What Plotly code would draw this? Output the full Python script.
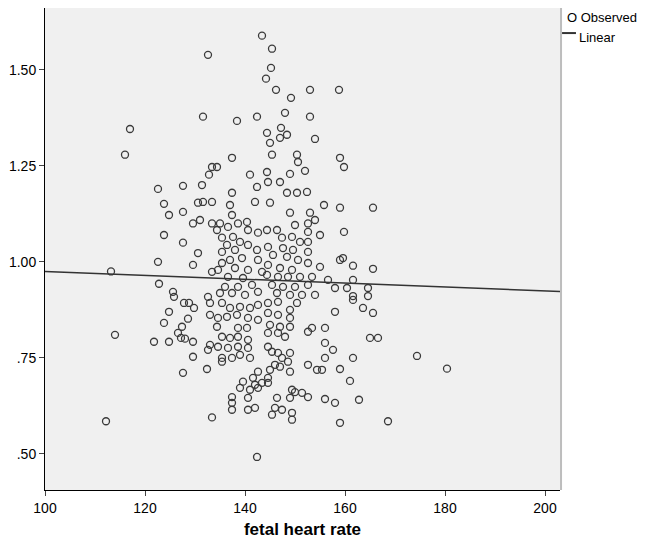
import plotly.graph_objects as go

# fetal heart rate (x) and ratio (y)
fhr = [
    # sparse / upper
    143.4, 145.4, 145.2, 132.6, 144.2, 146.2, 149.2, 153.0, 158.8, 117.0, 116.0, 131.6,
    138.4, 142.4, 148.0, 153.0, 144.4, 147.2, 145.0, 147.0, 145.4, 137.4, 141.0, 144.4,
    134.4, 154.0, 148.4, 150.4, 150.6, 152.0, 159.0, 159.8, 149.0,
    # left upper
    133.4, 132.8, 131.4, 127.6, 122.6, 123.8, 124.8, 127.6, 130.6, 131.6, 133.4, 129.6,
    131.0, 133.4, 123.8, 127.6,
    # left lower
    130.6, 129.6, 122.6, 113.2, 122.8, 125.6, 125.8, 127.8, 128.8, 129.8, 124.8, 123.8,
    128.6, 127.4, 126.6, 127.2, 128.0, 129.6, 121.8, 124.8, 114.0, 129.6, 127.6, 132.4,
    132.6, 133.0, 133.0, 133.0, 132.6, 112.2, 133.4, 133.4,
    # centre left upper
    137.4, 142.4, 142.0, 137.0, 137.4, 135.0, 134.4, 136.6, 138.6, 140.4, 140.6, 142.6,
    137.6, 135.4, 139.0, 136.4, 140.6, 135.4, 138.0, 142.4, 142.6, 139.4, 137.0, 135.4,
    134.6, 138.0, 140.6, 143.4, 136.6, 139.6, 136.0, 138.6, 141.4, 135.0, 137.4, 140.0,
    142.6,
    # centre right upper
    144.6, 147.0, 148.4, 150.4, 152.4, 145.0, 149.0, 153.0, 152.6, 154.0, 144.4, 146.4,
    150.0, 152.6, 147.4, 149.4, 151.0, 152.6, 144.6, 147.6, 149.6, 152.6, 145.6, 148.4,
    150.6, 152.6, 144.6, 147.0, 149.4, 144.4, 146.6, 148.6, 151.0, 153.4, 145.4, 147.6,
    150.0, 152.6, 146.4, 149.0, 151.4, 154.0,
    # right upper
    155.8, 159.0, 165.6, 159.8, 155.0, 159.0, 159.6, 161.6, 165.6, 161.6, 158.0, 160.4,
    164.6, 161.6, 164.6, 155.0, 156.6,
    # centre left lower
    135.4, 137.0, 139.0, 141.0, 142.6, 134.6, 136.4, 138.4, 140.6, 142.6, 134.4, 138.6,
    140.4, 135.4, 137.0, 138.6, 140.6, 134.6, 136.6, 138.6, 140.6, 135.4, 137.4, 139.0,
    141.0, 135.4, 142.6, 141.6, 139.6, 142.0, 143.4, 139.0, 141.0, 142.6, 137.4, 140.6,
    137.4, 137.4, 140.6, 142.0,
    # centre right lower
    144.6, 146.6, 149.0, 150.4, 144.6, 146.6, 149.0, 145.0, 147.0, 149.0, 144.6, 146.6,
    148.0, 153.4, 152.6, 144.6, 145.4, 146.6, 149.0, 147.4, 148.6, 146.0, 145.0, 147.0,
    149.0, 152.6, 154.4, 144.6, 144.6, 149.4, 150.0, 151.4, 152.6, 149.0, 146.4, 146.0,
    147.4, 149.4, 145.4,
    # right lower
    158.0, 161.6, 163.6, 165.6, 156.0, 165.0, 166.6, 156.0, 157.6, 156.0, 161.6, 174.4,
    180.4, 159.0, 155.4, 161.0, 156.0, 158.0, 162.8, 159.0, 168.6,
    # bottom
    142.4, 149.4,
]
ratio = [
    1.589, 1.555, 1.505, 1.539, 1.477, 1.448, 1.427, 1.448, 1.448, 1.346, 1.279, 1.378,
    1.367, 1.378, 1.388, 1.378, 1.336, 1.349, 1.310, 1.323, 1.279, 1.271, 1.227, 1.234,
    1.247, 1.320, 1.331, 1.279, 1.260, 1.237, 1.271, 1.247, 1.229,
    1.247, 1.227, 1.200, 1.198, 1.190, 1.151, 1.122, 1.130, 1.154, 1.156, 1.156, 1.100,
    1.109, 1.100, 1.070, 1.050,
    1.023, 0.992, 1.000, 0.975, 0.943, 0.922, 0.909, 0.893, 0.893, 0.880, 0.870, 0.841,
    0.852, 0.831, 0.815, 0.802, 0.800, 0.792, 0.792, 0.792, 0.810, 0.753, 0.711, 0.721,
    0.771, 0.784, 0.862, 0.893, 0.909, 0.585, 0.595, 0.974,
    1.180, 1.195, 1.156, 1.148, 1.122, 1.100, 1.083, 1.091, 1.100, 1.104, 1.083, 1.076,
    1.065, 1.063, 1.052, 1.044, 1.044, 1.026, 1.031, 1.031, 1.005, 1.010, 1.005, 0.997,
    0.979, 0.984, 0.979, 0.974, 0.961, 0.958, 0.935, 0.935, 0.940, 0.919, 0.919, 0.914,
    0.922,
    1.208, 1.208, 1.180, 1.180, 1.182, 1.154, 1.128, 1.128, 1.100, 1.109, 1.083, 1.083,
    1.096, 1.078, 1.063, 1.065, 1.052, 1.052, 1.039, 1.036, 1.031, 1.026, 1.018, 1.013,
    1.005, 0.997, 0.992, 0.984, 0.979, 0.966, 0.961, 0.961, 0.961, 0.961, 0.940, 0.935,
    0.935, 0.940, 0.919, 0.914, 0.914, 0.914,
    1.148, 1.141, 1.141, 1.078, 1.070, 1.005, 1.010, 0.990, 0.982, 0.953, 0.932, 0.932,
    0.932, 0.911, 0.911, 0.987, 0.953,
    0.893, 0.880, 0.883, 0.880, 0.888, 0.854, 0.857, 0.862, 0.854, 0.849, 0.831, 0.828,
    0.828, 0.805, 0.802, 0.805, 0.797, 0.779, 0.776, 0.779, 0.776, 0.750, 0.750, 0.758,
    0.750, 0.740, 0.714, 0.698, 0.688, 0.680, 0.685, 0.672, 0.667, 0.672, 0.648, 0.646,
    0.633, 0.615, 0.615, 0.620,
    0.893, 0.896, 0.875, 0.893, 0.867, 0.862, 0.854, 0.836, 0.831, 0.831, 0.815, 0.815,
    0.805, 0.828, 0.818, 0.779, 0.766, 0.763, 0.763, 0.750, 0.740, 0.732, 0.719, 0.727,
    0.714, 0.732, 0.719, 0.698, 0.685, 0.667, 0.661, 0.659, 0.648, 0.646, 0.646, 0.620,
    0.615, 0.607, 0.602,
    0.870, 0.901, 0.880, 0.867, 0.828, 0.802, 0.802, 0.789, 0.771, 0.750, 0.750, 0.755,
    0.722, 0.721, 0.719, 0.690, 0.643, 0.633, 0.641, 0.581, 0.585,
    0.492, 0.589,
]

# linear fit line end points
fit_x = [100, 203]
fit_y = [0.975, 0.923]

x_ticks = [100, 120, 140, 160, 180, 200]
y_ticks = [0.50, 0.75, 1.00, 1.25, 1.50]
y_tick_labels = [".50", ".75", "1.00", "1.25", "1.50"]

FONT = "Liberation Sans, Arial, sans-serif"

fig = go.Figure()
fig.add_trace(go.Scatter(
    x=fhr, y=ratio, mode="markers", name="Observed",
    marker=dict(symbol="circle-open", size=7, color="#3a3a3a", line=dict(width=1.3, color="#3a3a3a")),
))
fig.add_trace(go.Scatter(
    x=fit_x, y=fit_y, mode="lines", name="Linear",
    line=dict(color="#333333", width=1.5),
))

fig.update_layout(
    width=648, height=536,
    margin=dict(l=37, r=96, t=0, b=54),
    paper_bgcolor="white", plot_bgcolor="#f0f0f0",
    font=dict(family=FONT, size=14, color="black"),
    showlegend=False,
    xaxis=dict(range=[100, 203], tickvals=x_ticks, ticks="outside", ticklen=5,
               showgrid=False, zeroline=False, showline=True, linecolor="black", linewidth=1,
               title=dict(text="<b>fetal heart rate</b>", font=dict(size=17, family=FONT), standoff=8)),
    yaxis=dict(range=[0.406, 1.661], tickvals=y_ticks, ticktext=y_tick_labels, ticks="outside", ticklen=5,
               showgrid=False, zeroline=False, showline=True, linecolor="black", linewidth=1),
)
# right border of the plot panel
fig.add_shape(type="line", xref="paper", yref="paper", x0=1.002, x1=1.002, y0=0, y1=1,
              line=dict(color="#bdbdbd", width=2))
# legend drawn as text, SPSS style
fig.add_annotation(text="O Observed", xref="paper", yref="paper", x=1.0097, y=0.981,
                   xanchor="left", yanchor="middle", showarrow=False,
                   font=dict(family=FONT, size=13, color="black"))
fig.add_shape(type="line", xref="paper", yref="paper", x0=1.004, x1=1.031, y0=0.948, y1=0.948,
              line=dict(color="#333333", width=2))
fig.add_annotation(text="Linear", xref="paper", yref="paper", x=1.033, y=0.938,
                   xanchor="left", yanchor="middle", showarrow=False,
                   font=dict(family=FONT, size=13, color="black"))
fig.write_html("out.html")
